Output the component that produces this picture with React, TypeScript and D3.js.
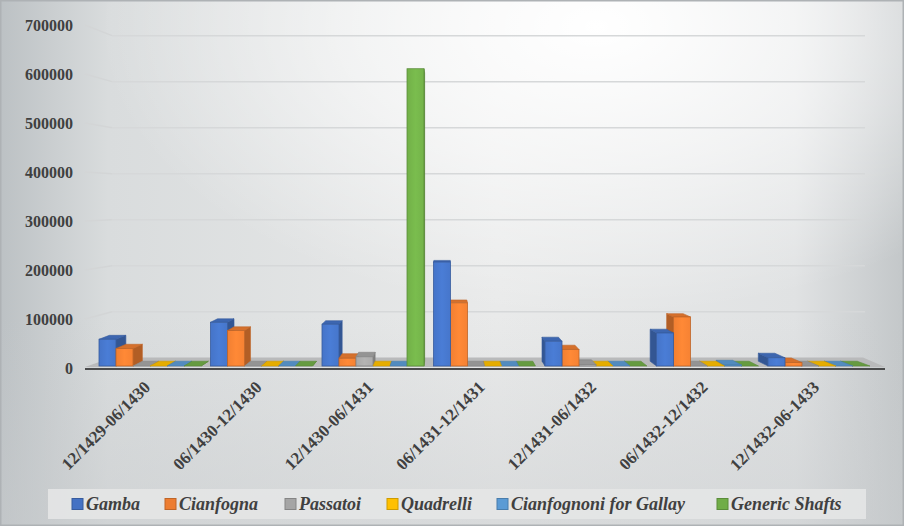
import React from "react";
import * as d3 from "d3";

const categories = [
  "12/1429-06/1430",
  "06/1430-12/1430",
  "12/1430-06/1431",
  "06/1431-12/1431",
  "12/1431-06/1432",
  "06/1432-12/1432",
  "12/1432-06-1433",
];
const seriesNames = ["Gamba", "Cianfogna", "Passatoi", "Quadrelli", "Cianfognoni for Gallay", "Generic Shafts"];
const seriesColors = ["#4472C4", "#ED7D31", "#A5A5A5", "#FFC000", "#5B9BD5", "#70AD47"];
const gamba = [55000, 90000, 86000, 214000, 51000, 68000, 17000];
const cianfogna = [36000, 73000, 16000, 130000, 34000, 101000, 7000];
const passatoi = [0, 0, 19000, 0, 3000, 0, 0];
const quadrelli = [0, 0, 0, 0, 0, 0, 0];
const cianfognoni = [0, 0, 0, 0, 0, 2000, 0];
const genericShafts = [0, 0, 612000, 0, 0, 0, 0];
const seriesValues = [gamba, cianfogna, passatoi, quadrelli, cianfognoni, genericShafts];
const yTicks = [0, 100000, 200000, 300000, 400000, 500000, 600000, 700000];
const legendX = [72, 165, 285, 387, 497, 717];

const W = 904;
const H = 526;
const FONT = "Liberation Serif";
const VX = 445;
const VY = 207;
const K = 0.03;

export default function App() {
  const x = d3.scaleBand().domain(categories).range([99, 870]).paddingInner(0.085).paddingOuter(0);
  const xs = d3.scaleBand().domain(seriesNames).range([0, x.bandwidth()]).padding(0);
  const yBar = d3.scaleLinear().domain([0, 700000]).range([366, 26]);
  const yFront = d3.scaleLinear().domain([0, 700000]).range([368, 25]);
  const yBack = d3.scaleLinear().domain([0, 700000]).range([357.7, 35.7]);

  const back = (px: number, py: number): [number, number] => [px + (VX - px) * K, py + (VY - py) * K];

  type Bar = { s: number; c: number; x0: number; x1: number; yt: number; yb: number };
  const bars: Bar[] = [];
  seriesValues.forEach((vals, s) => {
    vals.forEach((v, c) => {
      const x0 = (x(categories[c]) as number) + (xs(seriesNames[s]) as number);
      const x1 = x0 + xs.bandwidth();
      bars.push({ s, c, x0, x1, yt: yBar(v), yb: yBar(0) });
    });
  });
  bars.sort((a, b) => Math.abs((b.x0 + b.x1) / 2 - VX) - Math.abs((a.x0 + a.x1) / 2 - VX));

  const pts = (p: [number, number][]) => p.map((q) => q.join(",")).join(" ");

  const drawBar = (b: Bar, i: number) => {
    const col = d3.color(seriesColors[b.s]) as d3.RGBColor;
    const sideCol = col.darker(0.8).formatHex();
    const topCol = col.darker(0.3).formatHex();
    const edge = col.darker(0.6).formatHex();
    const [x0b, ytb] = back(b.x0, b.yt);
    const [x1b] = back(b.x1, b.yt);
    const [, ybb] = back(b.x0, b.yb);
    const parts: React.ReactNode[] = [];
    if (b.x1 < VX) {
      parts.push(
        <polygon key="s" points={pts([[b.x1, b.yt], [x1b, ytb], [x1b, ybb], [b.x1, b.yb]])} fill={sideCol} stroke={edge} strokeWidth={0.6} />
      );
    } else if (b.x0 > VX) {
      parts.push(
        <polygon key="s" points={pts([[b.x0, b.yt], [x0b, ytb], [x0b, ybb], [b.x0, b.yb]])} fill={sideCol} stroke={edge} strokeWidth={0.6} />
      );
    }
    if (b.yt > VY) {
      parts.push(
        <polygon key="t" points={pts([[b.x0, b.yt], [b.x1, b.yt], [x1b, ytb], [x0b, ytb]])} fill={topCol} stroke={edge} strokeWidth={0.6} />
      );
    }
    if (b.yb - b.yt > 0.5) {
      parts.push(
        <rect key="f" x={b.x0} y={b.yt} width={b.x1 - b.x0} height={b.yb - b.yt} fill={`url(#grad${b.s})`} stroke={edge} strokeWidth={0.8} />
      );
    }
    return <g key={i}>{parts}</g>;
  };

  const floorPts: [number, number][] = [
    [85, 367],
    [885, 367],
    [863, 357.5],
    [112, 357.5],
  ];

  const textStyle = { fontFamily: FONT };

  return (
    <div style={{ position: "absolute", left: 0, top: 0, width: W, height: H }}>
      <svg width={W} height={H} viewBox={`0 0 ${W} ${H}`} style={{ display: "block" }}>
        <defs>
          <linearGradient id="bgLin" x1="0" y1="0" x2="1" y2="0">
            <stop offset="0" stopColor="#bcc1c4" />
            <stop offset="0.12" stopColor="#d9dcdd" />
            <stop offset="0.55" stopColor="#e9eaea" />
            <stop offset="0.88" stopColor="#e0e2e3" />
            <stop offset="1" stopColor="#c3c7c9" />
          </linearGradient>
          <radialGradient id="bgRad" cx="0.66" cy="0.05" r="0.55">
            <stop offset="0" stopColor="#ffffff" stopOpacity="1" />
            <stop offset="0.5" stopColor="#ffffff" stopOpacity="0.55" />
            <stop offset="1" stopColor="#ffffff" stopOpacity="0" />
          </radialGradient>
          <linearGradient id="bgBottom" x1="0" y1="0" x2="0" y2="1">
            <stop offset="0.6" stopColor="#c8cbcd" stopOpacity="0" />
            <stop offset="1" stopColor="#c8cbcd" stopOpacity="0.5" />
          </linearGradient>
          {seriesColors.map((c, i) => {
            const col = d3.color(c) as d3.RGBColor;
            return (
              <linearGradient key={i} id={`grad${i}`} x1="0" y1="0" x2="1" y2="0">
                <stop offset="0" stopColor={col.brighter(0.05).formatHex()} />
                <stop offset="0.5" stopColor={col.brighter(0.25).formatHex()} />
                <stop offset="1" stopColor={col.brighter(0.1).formatHex()} />
              </linearGradient>
            );
          })}
        </defs>
        <rect x={0} y={0} width={W} height={H} fill="url(#bgLin)" />
        <rect x={0} y={0} width={W} height={H} fill="url(#bgRad)" />
        <rect x={0} y={0} width={W} height={H} fill="url(#bgBottom)" />
        <rect x={0.75} y={0.75} width={W - 1.5} height={H - 1.5} fill="none" stroke="#aeb2b5" strokeWidth={1.5} />

        {yTicks.filter((t) => t > 0).map((t) => (
          <g key={t}>
            <line x1={85} y1={yFront(t)} x2={112} y2={yBack(t)} stroke="#d3d5d6" strokeWidth={1.4} />
            <line x1={112} y1={yBack(t)} x2={865} y2={yBack(t)} stroke="#d6d8d9" strokeWidth={1.6} />
          </g>
        ))}

        {yTicks.map((t) => (
          <text
            key={t}
            x={73}
            y={yFront(t)}
            dy="0.35em"
            textAnchor="end"
            style={textStyle}
            fontWeight="bold"
            fontSize={16}
            fill="#404040"
          >
            {t}
          </text>
        ))}

        <polygon points={pts(floorPts)} fill="#b9babb" />
        <line x1={85} y1={369} x2={885} y2={369} stroke="#4a4b4c" strokeWidth={2} />

        {bars.map((b, i) => drawBar(b, i))}

        {categories.map((c) => {
          const cx = (x(c) as number) + x.bandwidth() / 2 - 3;
          return (
            <text
              key={c}
              transform={`translate(${cx},384) rotate(-45)`}
              textAnchor="end"
              dy="0.35em"
              style={textStyle}
              fontWeight="bold"
              fontSize={17}
              fill="#404040"
            >
              {c}
            </text>
          );
        })}

        <rect x={48} y={489} width={818} height={30} fill="#e4e5e6" opacity={0.9} />
        {seriesNames.map((n, i) => {
          const col = d3.color(seriesColors[i]) as d3.RGBColor;
          return (
            <g key={n}>
              <rect x={legendX[i]} y={498.5} width={11} height={11} fill={seriesColors[i]} stroke={col.darker(0.6).formatHex()} strokeWidth={1} />
              <text
                x={legendX[i] + 14}
                y={510}
                style={textStyle}
                fontWeight="bold"
                fontStyle="italic"
                fontSize={18}
                fill="#404040"
              >
                {n}
              </text>
            </g>
          );
        })}
      </svg>
    </div>
  );
}
